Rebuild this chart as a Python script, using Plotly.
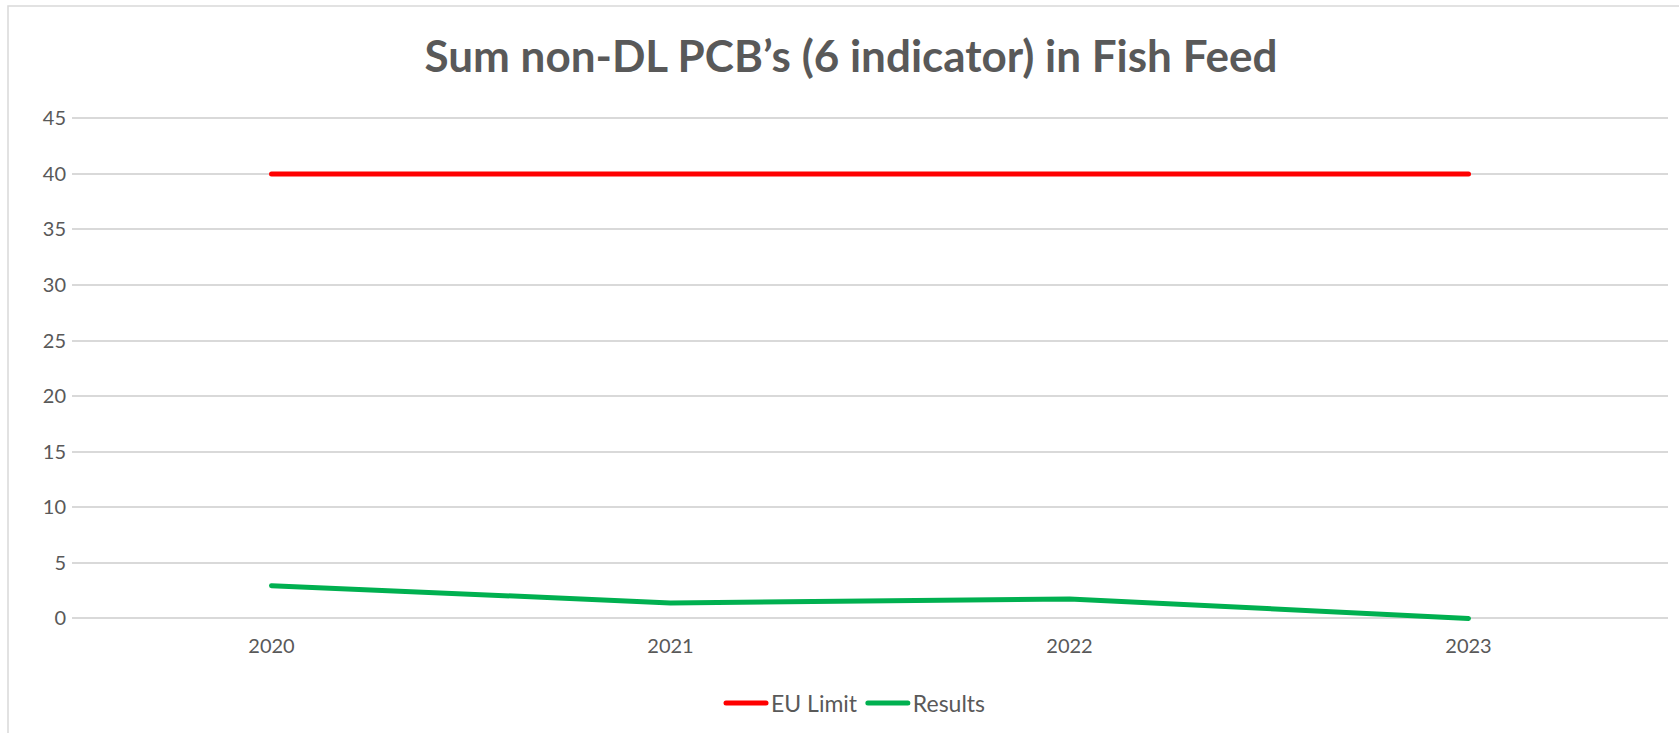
import plotly.graph_objects as go

years = ["2020", "2021", "2022", "2023"]
eu_limit = [40, 40, 40, 40]
results = [2.95, 1.4, 1.75, 0.0]
y_ticks = [0, 5, 10, 15, 20, 25, 30, 35, 40, 45]

W, H = 1679, 733
L, R_EDGE = 72, 1668
TOP, BOT = 115, 624
GRAY = "#595959"
GRID = "#d9d9d9"
FONT = "Lato"

fig = go.Figure()
fig.add_trace(go.Scatter(x=years, y=eu_limit, name="EU Limit", mode="lines",
                         line=dict(color="#ff0000", width=5)))
fig.add_trace(go.Scatter(x=years, y=results, name="Results", mode="lines",
                         line=dict(color="#00b050", width=5)))

pw = R_EDGE - L
ph = BOT - TOP
fig.add_shape(type="rect", xref="paper", yref="paper", layer="below",
              x0=(8 - L) / pw, x1=(W + 10 - L) / pw,
              y0=-(H + 10 - BOT) / ph, y1=1 + (TOP - 6) / ph,
              line=dict(color=GRID, width=1.5), fillcolor="rgba(0,0,0,0)")

fig.update_layout(
    width=W, height=H,
    margin=dict(l=L, r=W - R_EDGE, t=TOP, b=H - BOT),
    paper_bgcolor="white", plot_bgcolor="white",
    font=dict(family=FONT, color=GRAY, size=20),
    title=dict(text="<b>Sum non-DL PCB’s (6 indicator) in Fish Feed</b>",
               x=851 / W, xref="container", xanchor="center",
               y=1 - 57 / H, yref="container", yanchor="middle",
               font=dict(family=FONT, size=44, color=GRAY)),
    showlegend=True,
    legend=dict(orientation="h", xref="container", yref="container",
                x=856 / W, xanchor="center", y=1 - 703 / H, yanchor="middle",
                font=dict(family=FONT, size=23, color=GRAY),
                itemwidth=40, bgcolor="rgba(0,0,0,0)"),
)
fig.update_xaxes(type="category", range=[-0.5, 3.5], showgrid=False,
                 showline=False, zeroline=False, ticks="",
                 tickfont=dict(size=20, color=GRAY), ticklabelstandoff=8)
fig.update_yaxes(range=[-0.5, 45.3], tickvals=y_ticks, showgrid=True,
                 gridcolor=GRID, gridwidth=1.5, zeroline=False, showline=False,
                 ticks="", tickfont=dict(size=20, color=GRAY),
                 ticklabelstandoff=5)

post = (
    "document.body.style.margin='0';document.body.style.overflow='hidden';"
    "var s=document.createElement('style');"
    "s.textContent='.scatterlayer path.js-line, .legendlines path{stroke-linecap:round;stroke-linejoin:round;}';"
    "document.head.appendChild(s);"
)
fig.write_html("out.html", post_script=post, config={"displayModeBar": False})
